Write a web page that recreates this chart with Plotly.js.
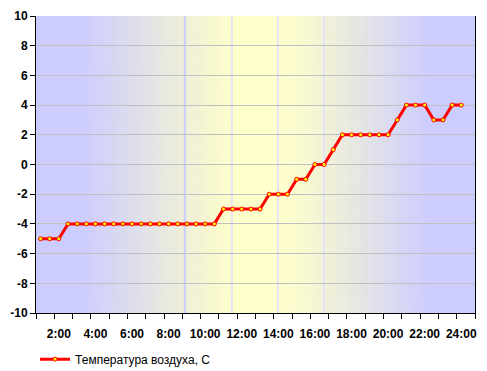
<!DOCTYPE html>
<html><head><meta charset="utf-8">
<script src="https://cdn.plot.ly/plotly-3.0.1.min.js"></script>
<style>html,body{margin:0;padding:0;background:#fff}#c{width:487px;height:371px}</style>
</head><body><div id="c"></div>
<script>
// half-hourly observation times
const times = ["1:00","1:30","2:00","2:30","3:00","3:30","4:00","4:30","5:00","5:30",
  "6:00","6:30","7:00","7:30","8:00","8:30","9:00","9:30","10:00","10:30",
  "11:00","11:30","12:00","12:30","13:00","13:30","14:00","14:30","15:00","15:30",
  "16:00","16:30","17:00","17:30","18:00","18:30","19:00","19:30","20:00","20:30",
  "21:00","21:30","22:00","22:30","23:00","23:30","24:00"];
// air temperature, C
const temps = [-5,-5,-5,-4,-4,-4,-4,-4,-4,-4,
  -4,-4,-4,-4,-4,-4,-4,-4,-4,-4,
  -3,-3,-3,-3,-3,-2,-2,-2,-1,-1,
  0,0,1,2,2,2,2,2,2,3,
  4,4,4,3,3,4,4];
const tickLabels = ["2:00","4:00","6:00","8:00","10:00","12:00","14:00","16:00","18:00","20:00","22:00","24:00"];
const seriesName = "Температура воздуха, С";
const yTicks = [-10,-8,-6,-4,-2,0,2,4,6,8,10];
const yTickText = ["-10","-8","-6","-4","-2","0","2","4","6","8","10"];

// background gradient image
const cv = document.createElement('canvas');
cv.width = 440; cv.height = 10;
const g = cv.getContext('2d');
const grad = g.createLinearGradient(0,0,440,0);
grad.addColorStop(0.0,'#ccccff');
grad.addColorStop(0.10,'#ccccff');
grad.addColorStop(0.40,'#f8f8d0');
grad.addColorStop(0.45,'#ffffcc');
grad.addColorStop(0.55,'#ffffcc');
grad.addColorStop(0.62,'#f8f8d2');
grad.addColorStop(0.90,'#ccccff');
grad.addColorStop(1.0,'#ccccff');
g.fillStyle = grad; g.fillRect(0,0,440,10);
const bg = cv.toDataURL();

const xs = times.map((t,i)=>i);
const trace = {
  x: xs, y: temps, type:'scatter', mode:'lines+markers', name: seriesName,
  line:{color:'#ff0000', width:3},
  marker:{color:'#ffff00', size:4, line:{color:'#ff0000', width:1}}
};
const vl = (f,c)=>({type:'line', xref:'paper', yref:'paper', x0:f, x1:f, y0:0, y1:1, layer:'below', line:{color:c, width:2}});
const layout = {
  width:487, height:371,
  margin:{l:36, r:12, t:16, b:58},
  paper_bgcolor:'#ffffff', plot_bgcolor:'rgba(0,0,0,0)',
  font:{family:'"Liberation Sans", Arial, sans-serif', size:12, color:'#000'},
  images:[{source:bg, xref:'paper', yref:'paper', x:0, y:1, sizex:1, sizey:1, sizing:'stretch', layer:'below', xanchor:'left', yanchor:'top'}],
  shapes:[vl(0.339,'#ccccff'), vl(0.446,'#e4e4f4'), vl(0.551,'#e4e4f4'), vl(0.656,'#e4e4f4')],
  xaxis:{range:[-0.5,47.5], tickmode:'array', tickvals: tickLabels.map(l=>times.indexOf(l)), ticktext: tickLabels,
    ticks:'', showgrid:false, zeroline:false, showline:true, linecolor:'#000', linewidth:1, automargin:false,
    ticklabelstandoff:10,
    tickfont:{family:'"Liberation Sans", Arial, sans-serif', size:12, color:'#000', weight:'bold'},
    minor:{tickmode:'linear', tick0:-0.5, dtick:2, ticks:'outside', ticklen:5, tickcolor:'#000', showgrid:false},
    fixedrange:true},
  yaxis:{range:[-10,10], tickmode:'array', tickvals:yTicks, ticktext:yTickText, ticks:'outside', ticklen:5, tickcolor:'#000', automargin:false,
    showgrid:true, gridcolor:'#c0c0c0', gridwidth:1, zeroline:false, showline:true, linecolor:'#000', linewidth:1, mirror:true,
    tickfont:{family:'"Liberation Sans", Arial, sans-serif', size:12, color:'#000', weight:'bold'}, fixedrange:true},
  showlegend:true,
  legend:{xref:'container', yref:'container', x:0.072, y:0.032, xanchor:'left', yanchor:'middle', orientation:'h',
    bgcolor:'rgba(0,0,0,0)', font:{size:12}}
};
Plotly.newPlot('c',[trace],layout,{staticPlot:true, displayModeBar:false});
</script></body></html>
